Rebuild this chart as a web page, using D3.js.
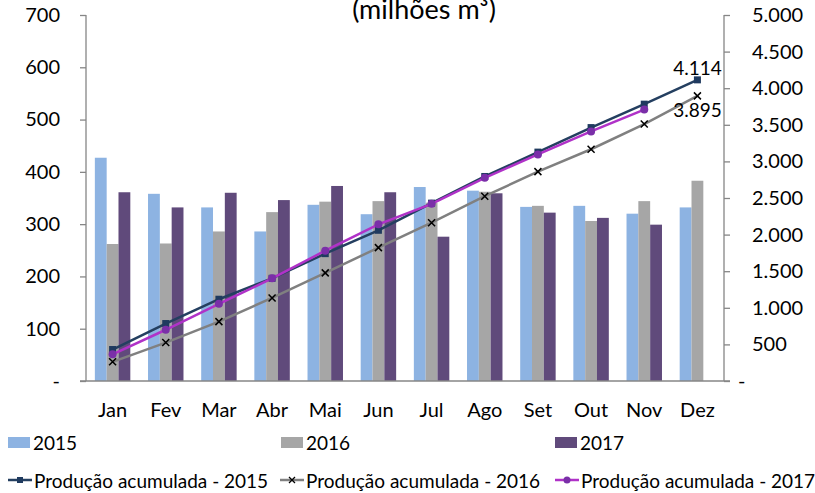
<!DOCTYPE html>
<html>
<head>
<meta charset="utf-8">
<script src="https://cdn.jsdelivr.net/npm/d3@7"></script>
<style>
  body { margin: 0; background: #fff; }
  text { font-family: Lato, "Open Sans", sans-serif; fill: #000; }
</style>
</head>
<body>
<svg id="chart" width="815" height="493"></svg>
<script>
// monthly production (milhões m³)
var months = ["Jan", "Fev", "Mar", "Abr", "Mai", "Jun", "Jul", "Ago", "Set", "Out", "Nov", "Dez"];
var years = ["2015", "2016", "2017"];
var prod2015 = [427, 358, 332, 286, 337, 319, 371, 364, 333, 335, 320, 332];
var prod2016 = [262, 263, 286, 323, 343, 344, 341, 362, 335, 306, 344, 383];
var prod2017 = [361, 332, 360, 346, 373, 361, 276, 359, 322, 312, 299];
// accumulated production
var acum2015 = [430, 785, 1117, 1403, 1740, 2059, 2430, 2794, 3127, 3462, 3782, 4114];
var acum2016 = [262, 525, 811, 1135, 1477, 1822, 2163, 2525, 2860, 3166, 3510, 3895];
var acum2017 = [365, 700, 1055, 1402, 1780, 2140, 2420, 2775, 3095, 3410, 3708];
var leftTicks = [0, 100, 200, 300, 400, 500, 600, 700];
var rightTicks = [0, 500, 1000, 1500, 2000, 2500, 3000, 3500, 4000, 4500, 5000];

(function () {
  var svg = d3.select("#chart");
  var pLeft = 86, pRight = 724, pTop = 15, pBottom = 381;
  var barColors = { "2015": "#8db3e2", "2016": "#a6a6a6", "2017": "#604a7b" };
  var fmt = d3.formatLocale({ decimal: ",", thousands: ".", grouping: [3], currency: ["", ""] }).format(",d");

  var x0 = d3.scaleBand().domain(months).range([pLeft, pRight]).paddingInner(0.333).paddingOuter(0.1665);
  var x1 = d3.scaleBand().domain(years).range([0, x0.bandwidth()]);
  var yL = d3.scaleLinear().domain([0, 700]).range([pBottom, pTop]);
  var yR = d3.scaleLinear().domain([0, 5000]).range([pBottom, pTop]);

  // title (top line is cut off in the original)
  svg.append("text").attr("x", 424).attr("y", 19).attr("text-anchor", "middle")
    .style("font-size", "27px").text("(milhões m³)");

  // bars
  var barSeries = [prod2015, prod2016, prod2017];
  barSeries.forEach(function (vals, i) {
    svg.append("g").selectAll("rect").data(vals).enter().append("rect")
      .attr("x", function (d, j) { return x0(months[j]) + x1(years[i]); })
      .attr("y", function (d) { return yL(d); })
      .attr("width", x1.bandwidth())
      .attr("height", function (d) { return pBottom - yL(d); })
      .attr("fill", barColors[years[i]]);
  });

  // axes
  var axisColor = "#868686";
  var gl = svg.append("g").attr("transform", "translate(" + pLeft + ",0)")
    .call(d3.axisLeft(yL).tickValues(leftTicks).tickSize(6).tickFormat(function (d) { return d === 0 ? "-" : d; }));
  var gr = svg.append("g").attr("transform", "translate(" + pRight + ",0)")
    .call(d3.axisRight(yR).tickValues(rightTicks).tickSize(6).tickFormat(function (d) { return d === 0 ? "-" : fmt(d); }));
  [gl, gr].forEach(function (g) {
    g.select(".domain").attr("stroke", axisColor).attr("stroke-width", 1.3).attr("d", "M0," + pTop + "V" + pBottom);
    g.selectAll(".tick line").attr("stroke", axisColor).attr("stroke-width", 1.3);
    g.selectAll("text").style("font-size", "20px").attr("fill", "#000").style("font-family", "Lato, sans-serif");
  });
  gl.selectAll(".tick text").attr("x", -26);
  gr.selectAll(".tick text").attr("x", 28).attr("text-anchor", "start");
  gr.selectAll(".tick text").filter(function (d) { return d === 0; }).attr("x", 14);

  svg.append("line").attr("x1", pLeft - 6).attr("x2", pRight + 6).attr("y1", pBottom).attr("y2", pBottom)
    .attr("stroke", axisColor).attr("stroke-width", 1.3);

  svg.append("g").selectAll("text").data(months).enter().append("text")
    .attr("x", function (d) { return x0(d) + x0.bandwidth() / 2; })
    .attr("y", 417).attr("text-anchor", "middle").style("font-size", "20px")
    .text(function (d) { return d; });

  // accumulated lines
  var cx = function (d, j) { return x0(months[j]) + x0.bandwidth() / 2; };
  var lineGen = d3.line().x(cx).y(function (d) { return yR(d); });
  var lineSeries = [
    { vals: acum2016, color: "#808080", marker: "x" },
    { vals: acum2015, color: "#243f60", marker: "square" },
    { vals: acum2017, color: "#b032c8", marker: "circle" }
  ];
  lineSeries.forEach(function (s) {
    var g = svg.append("g");
    g.append("path").datum(s.vals).attr("d", lineGen).attr("fill", "none")
      .attr("stroke", s.color).attr("stroke-width", 2.5);
    var pts = g.selectAll("g").data(s.vals).enter().append("g")
      .attr("transform", function (d, j) { return "translate(" + cx(d, j) + "," + yR(d) + ")"; });
    if (s.marker === "square") {
      pts.append("rect").attr("x", -3.5).attr("y", -3.5).attr("width", 7).attr("height", 7).attr("fill", "#1f3a5f");
    } else if (s.marker === "circle") {
      pts.append("circle").attr("r", 4).attr("fill", "#7a2fa8");
    } else {
      pts.append("path").attr("d", "M-3.5,-3.5L3.5,3.5M-3.5,3.5L3.5,-3.5").attr("stroke", "#000").attr("stroke-width", 1.5);
    }
  });

  // data labels
  var dez = x0("Dez") + x0.bandwidth() / 2;
  svg.append("text").attr("x", dez).attr("y", 75).attr("text-anchor", "middle").style("font-size", "19px").text(fmt(acum2015[11]));
  svg.append("text").attr("x", dez).attr("y", 117).attr("text-anchor", "middle").style("font-size", "19px").text(fmt(acum2016[11]));

  // legend
  var legendBars = [{ name: "2015", x: 8 }, { name: "2016", x: 281 }, { name: "2017", x: 555 }];
  legendBars.forEach(function (l) {
    svg.append("rect").attr("x", l.x).attr("y", 437).attr("width", 22).attr("height", 11).attr("fill", barColors[l.name]);
    svg.append("text").attr("x", l.x + 25).attr("y", 450).style("font-size", "19px").text(l.name);
  });
  var legendLines = [
    { name: "Produção acumulada - 2015", x: 8, s: lineSeries[1] },
    { name: "Produção acumulada - 2016", x: 280, s: lineSeries[0] },
    { name: "Produção acumulada - 2017", x: 555, s: lineSeries[2] }
  ];
  legendLines.forEach(function (l) {
    var ly = 480;
    svg.append("line").attr("x1", l.x).attr("x2", l.x + 24).attr("y1", ly).attr("y2", ly)
      .attr("stroke", l.s.color).attr("stroke-width", 2.5);
    var mx = l.x + 12;
    if (l.s.marker === "square") {
      svg.append("rect").attr("x", mx - 3).attr("y", ly - 3).attr("width", 6).attr("height", 6).attr("fill", "#1f3a5f");
    } else if (l.s.marker === "circle") {
      svg.append("circle").attr("cx", mx).attr("cy", ly).attr("r", 3.5).attr("fill", "#7a2fa8");
    } else {
      svg.append("path").attr("d", "M" + (mx - 3) + "," + (ly - 3) + "l6,6m-6,0l6,-6").attr("stroke", "#000").attr("stroke-width", 1.3);
    }
    svg.append("text").attr("x", l.x + 26).attr("y", 488).style("font-size", "19px").text(l.name);
  });
})();
</script>
</body>
</html>
